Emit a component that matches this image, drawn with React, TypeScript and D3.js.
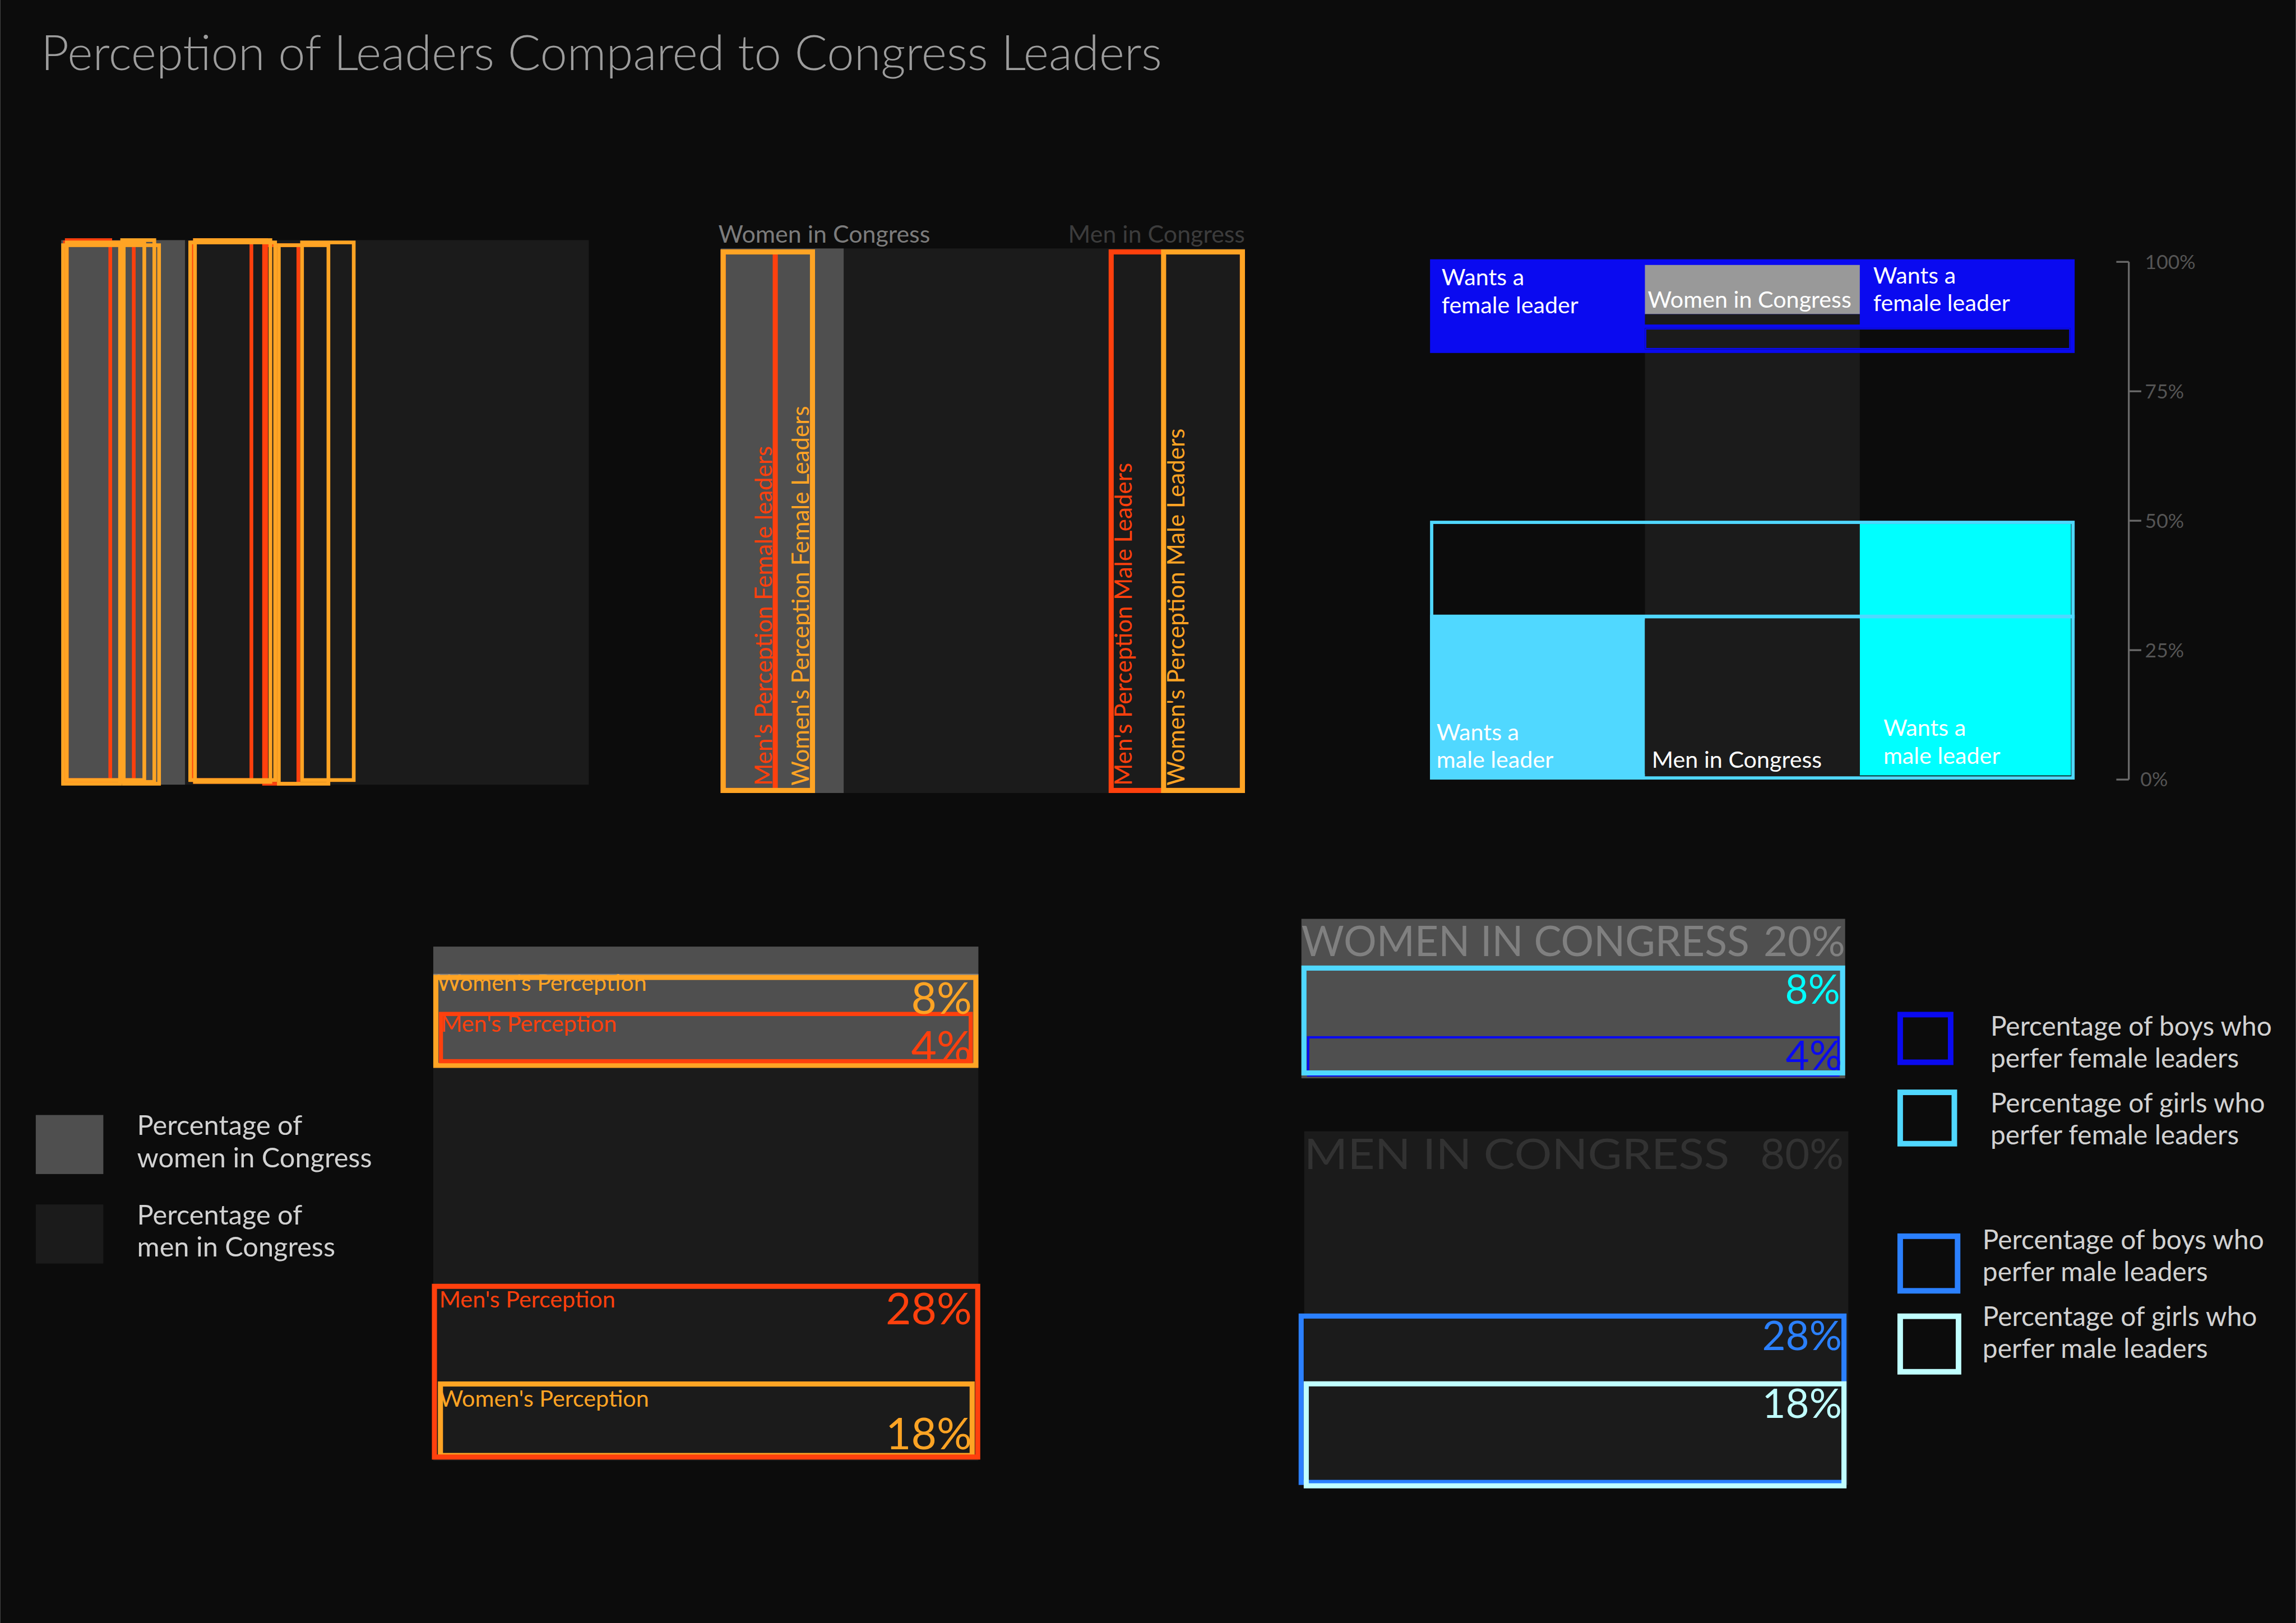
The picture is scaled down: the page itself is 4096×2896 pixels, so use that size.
import React from 'react';
import * as d3 from 'd3';

// reference canvas, drawn at 0.825 through the viewBox
const W = 4961;
const H = 3508;
const FONT = 'Lato, "Open Sans", sans-serif';

// --- data ---
const congressGroups = ['Women in Congress', 'Men in Congress'];
const congressShare = [23.5, 76.5]; // share of each panel the congress blocks take
const congressPctLabels = ['20%', '80%'];

const perceivers = ["Men's Perception", "Women's Perception"];
const femaleLeaderPct = ['4%', '8%'];
const maleLeaderPct = ['28%', '18%'];

// panel 1: overlapping outline boxes (% of panel width)
const p1Start = [0.35, 0.7, 0, 0.7, 11.2, 11.5, 24.4, 25, 38.1, 24.1, 25, 40.9, 45.3];
const p1End = [14.1, 9.65, 11.5, 16.1, 18.0, 18.9, 36.4, 39.2, 45.3, 40.9, 40, 51, 55.8];
const p1Who = ['m', 'm', 'w', 'w', 'w', 'w', 'm', 'm', 'm', 'w', 'w', 'w', 'w'];

// panel 2: widths (% of panel) for female leaders (from left) and male leaders (from right)
const p2FemaleWidth = [10.9, 18]; // men, women
const p2MaleWidth = [26, 16];
const p2Titles = ["Men's Perception Female leaders", "Women's Perception Female Leaders"];
const p2MaleTitles = ["Men's Perception Male Leaders", "Women's Perception Male Leaders"];

// panel 3: vertical % scale
const p3Ticks = [0, 25, 50, 75, 100];
const p3Columns = ['left', 'center', 'right'];
const p3BoysFemale = [82.4, 100.5];
const p3WomenBox = [89.9, 99.4];
const p3DarkStrip = [87.9, 89.9];
const p3InnerBox = [83.1, 87.2];
const p3GirlsOutline = [0, 50];
const p3GirlsMale = [0.8, 49.4];
const p3BoysMale = [0, 31.5];
const p3MenBox = [1.1, 30.8];

// panel 4: vertical extents (% of panel height)
const p4FemaleFrom = [12.7, 5.5]; // men, women
const p4FemaleTo = [22.7, 23.6];
const p4MaleFrom = [65.6, 84.6];
const p4MaleTo = [99.8, 99.5];

// panel 5: vertical extents (% of panel height)
const p5WomenBlock = [0, 28];
const p5MenBlock = [37.3, 99.4];
const p5GirlsFemale = [8.2, 27.5];
const p5BoysFemale = [20.6, 27.7];
const p5BoysMale = [69.3, 99.4];
const p5GirlsMale = [81.2, 100];

const legendLeft = [['Percentage of', 'women in Congress'], ['Percentage of', 'men in Congress']];
const legendRight = [
  ['Percentage of boys who', 'perfer female leaders'],
  ['Percentage of girls who', 'perfer female leaders'],
  ['Percentage of boys who', 'perfer male leaders'],
  ['Percentage of girls who', 'perfer male leaders'],
];

// --- colours ---
const BG = '#0c0c0c';
const WOMEN = '#4f4f4f';
const MEN = '#1b1b1b';
const ORANGE = '#ffa424';
const RED = '#ff400d';
const BLUE = '#0a0af0';
const LIGHTCYAN = '#50d8ff';
const CYAN = '#00ffff';
const BLUE2 = '#2b80ff';
const PALECYAN = '#c0ffff';
const TEXT = '#d2d2d2';

const whoColor = d3.scaleOrdinal<string, string>().domain(['m', 'w']).range([RED, ORANGE]);

type OutlineProps = { x0: number; x1: number; y0: number; y1: number; sw: number; color: string; fill?: string };
const Outline = ({ x0, x1, y0, y1, sw, color, fill = 'none' }: OutlineProps) => (
  <rect
    x={Math.min(x0, x1) + sw / 2}
    y={Math.min(y0, y1) + sw / 2}
    width={Math.abs(x1 - x0) - sw}
    height={Math.abs(y1 - y0) - sw}
    fill={fill}
    stroke={color}
    strokeWidth={sw}
  />
);

const Block = ({ x0, x1, y0, y1, fill }: { x0: number; x1: number; y0: number; y1: number; fill: string }) => (
  <rect x={Math.min(x0, x1)} y={Math.min(y0, y1)} width={Math.abs(x1 - x0)} height={Math.abs(y1 - y0)} fill={fill} />
);

function Panel1() {
  const x = d3.scaleLinear().domain([0, 100]).range([132, 1272]);
  const top = 519;
  const bottom = 1696;
  const dTop = [1, -4, 7];
  const dBot = [-6, -2, 2];
  return (
    <g>
      <Block x0={x(0)} x1={x(congressShare[0])} y0={top} y1={bottom} fill={WOMEN} />
      <Block x0={x(congressShare[0])} x1={x(100)} y0={top} y1={bottom} fill={MEN} />
      {p1Start.map((s, i) => (
        <Outline
          key={i}
          x0={x(s)}
          x1={x(p1End[i])}
          y0={top + dTop[i % 3]}
          y1={bottom + dBot[i % 3]}
          sw={8}
          color={whoColor(p1Who[i])}
        />
      ))}
    </g>
  );
}

function Panel2() {
  const x = d3.scaleLinear().domain([0, 100]).range([1557, 2690]);
  const top = 537;
  const bottom = 1714;
  const sw = 11;
  return (
    <g fontFamily={FONT}>
      <text x={1552} y={525} fontSize={52} fill="#7c7c7c">{congressGroups[0]}</text>
      <text x={2690} y={525} fontSize={52} fill="#3c3c3c" textAnchor="end">{congressGroups[1]}</text>
      <Block x0={x(0)} x1={x(congressShare[0])} y0={top} y1={bottom} fill={WOMEN} />
      <Block x0={x(congressShare[0])} x1={x(100)} y0={top} y1={bottom} fill={MEN} />
      {p2FemaleWidth.map((w, i) => (
        <g key={'f' + i}>
          <Outline x0={x(0)} x1={x(w)} y0={top + 2} y1={bottom} sw={sw} color={i === 0 ? RED : ORANGE} />
          <text
            transform={`translate(${x(w) - 13},${bottom - 16}) rotate(-90)`}
            fontSize={51}
            fill={i === 0 ? RED : ORANGE}
          >
            {p2Titles[i]}
          </text>
        </g>
      ))}
      {p2MaleWidth.map((w, i) => (
        <g key={'m' + i}>
          <Outline x0={x(100 - w)} x1={x(100)} y0={top + 2} y1={bottom} sw={sw} color={i === 0 ? RED : ORANGE} />
          <text
            transform={`translate(${x(100 - w) + 50},${bottom - 16}) rotate(-90)`}
            fontSize={51}
            fill={i === 0 ? RED : ORANGE}
          >
            {p2MaleTitles[i]}
          </text>
        </g>
      ))}
    </g>
  );
}

function Panel3() {
  const y = d3.scaleLinear().domain([0, 100]).range([1685, 566]);
  const x = d3.scaleBand<string>().domain(p3Columns).range([3090, 4483]).padding(0);
  const left = x('left')!;
  const mid = x('center')!;
  const right = x('right')!;
  const bw = x.bandwidth();
  const end = 4483;
  const axisX = 4600;
  return (
    <g fontFamily={FONT}>
      {/* congress column */}
      <Block x0={mid} x1={mid + bw} y0={y(0)} y1={y(100)} fill={MEN} />
      {/* boys want a female leader */}
      <Block x0={left} x1={end} y0={y(p3BoysFemale[0])} y1={y(p3BoysFemale[1])} fill={BLUE} />
      <Block x0={mid} x1={mid + bw} y0={y(p3WomenBox[0])} y1={y(p3WomenBox[1])} fill="#999999" />
      <Block x0={mid} x1={mid + bw} y0={y(p3DarkStrip[0])} y1={y(p3DarkStrip[1])} fill={MEN} />
      <Block x0={mid} x1={end - 9} y0={y(p3InnerBox[0])} y1={y(p3InnerBox[1])} fill={BG} />
      <Block x0={mid} x1={mid + bw} y0={y(p3InnerBox[0])} y1={y(p3InnerBox[1])} fill={MEN} />
      <Outline x0={mid} x1={end - 9} y0={y(p3InnerBox[0])} y1={y(p3InnerBox[1])} sw={3} color={BLUE} />
      <text fontSize={50} fill="#ffffff">
        <tspan x={left + 25} y={y(p3BoysFemale[1]) + 56}>Wants a</tspan>
        <tspan x={left + 25} y={y(p3BoysFemale[1]) + 117}>female leader</tspan>
      </text>
      <text fontSize={50} fill="#ffffff">
        <tspan x={right + 29} y={y(p3BoysFemale[1]) + 53}>Wants a</tspan>
        <tspan x={right + 29} y={y(p3BoysFemale[1]) + 112}>female leader</tspan>
      </text>
      <text x={mid + 6} y={y(p3WomenBox[0]) - 14} fontSize={50} fill="#ffffff">{congressGroups[0]}</text>

      {/* girls want a male leader */}
      <Block x0={right} x1={end - 8} y0={y(p3GirlsMale[0])} y1={y(p3GirlsMale[1])} fill={CYAN} />
      <Outline x0={left} x1={end} y0={y(p3GirlsOutline[0])} y1={y(p3GirlsOutline[1])} sw={7} color={LIGHTCYAN} />
      {/* boys want a male leader */}
      <Block x0={left} x1={mid} y0={y(p3BoysMale[0])} y1={y(p3BoysMale[1])} fill={LIGHTCYAN} />
      <Block x0={left} x1={end} y0={y(p3BoysMale[1]) - 4} y1={y(p3BoysMale[1]) + 4} fill={LIGHTCYAN} />
      <Block x0={mid} x1={mid + bw} y0={y(p3MenBox[0])} y1={y(p3MenBox[1])} fill={MEN} />
      <text fontSize={50} fill="#ffffff">
        <tspan x={left + 14} y={y(0) - 85}>Wants a</tspan>
        <tspan x={left + 14} y={y(0) - 25}>male leader</tspan>
      </text>
      <text fontSize={50} fill="#ffffff">
        <tspan x={right + 51} y={y(0) - 95}>Wants a</tspan>
        <tspan x={right + 51} y={y(0) - 34}>male leader</tspan>
      </text>
      <text x={mid + 15} y={y(0) - 26} fontSize={50} fill="#ffffff">{congressGroups[1]}</text>

      {/* axis */}
      <line x1={axisX} x2={axisX} y1={y(100)} y2={y(0)} stroke="#6a6a6a" strokeWidth={4} />
      {p3Ticks.map((t) => {
        const edge = t === 0 || t === 100;
        return (
          <g key={t}>
            <line
              x1={edge ? axisX - 27 : axisX}
              x2={edge ? axisX : axisX + 27}
              y1={y(t)}
              y2={y(t)}
              stroke="#6a6a6a"
              strokeWidth={4}
            />
            <text
              x={edge && t === 0 ? axisX + 25 : axisX + 35}
              y={y(t)}
              dy="0.35em"
              fontSize={43}
              fill="#555555"
            >
              {t}%
            </text>
          </g>
        );
      })}
    </g>
  );
}

function Panel4() {
  const y = d3.scaleLinear().domain([0, 100]).range([2046, 3157]);
  const x0 = 936;
  const x1 = 2114;
  const sw = 11;
  const pctX = 2100;
  return (
    <g fontFamily={FONT}>
      <Block x0={x0} x1={x1} y0={y(0)} y1={y(congressShare[0])} fill={WOMEN} />
      <Block x0={x0} x1={x1} y0={y(congressShare[0])} y1={y(100)} fill={MEN} />
      <line x1={x0} x2={x1} y1={y(p4FemaleFrom[1]) - 1} y2={y(p4FemaleFrom[1]) - 1} stroke="#8a8a8a" strokeWidth={2} />
      {/* female leader perception */}
      <text x={x0 + 8} y={y(p4FemaleFrom[1]) + 35} fontSize={50} fill={ORANGE}>{perceivers[1]}</text>
      <Outline x0={x0} x1={x1} y0={y(p4FemaleFrom[1])} y1={y(p4FemaleTo[1])} sw={sw} color={ORANGE} />
      <Outline x0={x0 + 12} x1={x1 - 12} y0={y(p4FemaleFrom[0])} y1={y(p4FemaleTo[0])} sw={9} color={RED} />
      <text x={pctX} y={y(p4FemaleFrom[1]) + 84} fontSize={95} fill={ORANGE} textAnchor="end">{femaleLeaderPct[1]}</text>
      <text x={x0 + 16} y={y(p4FemaleFrom[0]) + 43} fontSize={50} fill={RED}>{perceivers[0]}</text>
      <text x={pctX} y={y(p4FemaleTo[0]) - 1} fontSize={95} fill={RED} textAnchor="end">{femaleLeaderPct[0]}</text>
      {/* male leader perception */}
      <Outline x0={x0 + 10} x1={x1 - 8} y0={y(p4MaleFrom[1])} y1={y(p4MaleTo[1])} sw={sw} color={ORANGE} />
      <Outline x0={x0 - 3} x1={x1 + 4} y0={y(p4MaleFrom[0])} y1={y(p4MaleTo[0])} sw={sw} color={RED} />
      <text x={x0 + 13} y={y(p4MaleFrom[0]) + 51} fontSize={50} fill={RED}>{perceivers[0]}</text>
      <text x={pctX} y={y(p4MaleFrom[0]) + 87} fontSize={95} fill={RED} textAnchor="end">{maleLeaderPct[0]}</text>
      <text x={x0 + 13} y={y(p4MaleFrom[1]) + 54} fontSize={50} fill={ORANGE}>{perceivers[1]}</text>
      <text x={pctX} y={y(p4MaleTo[1]) - 19} fontSize={95} fill={ORANGE} textAnchor="end">{maleLeaderPct[1]}</text>
    </g>
  );
}

function Panel5() {
  const y = d3.scaleLinear().domain([0, 100]).range([1986, 3217]);
  const x0 = 2812;
  const x1 = 3987;
  const sw = 11;
  return (
    <g fontFamily={FONT}>
      <Block x0={x0} x1={x1} y0={y(p5WomenBlock[0])} y1={y(p5WomenBlock[1])} fill={WOMEN} />
      <text x={x0} y={y(p5WomenBlock[0]) + 80} fontSize={92} fill="#808080" textLength={968} lengthAdjust="spacingAndGlyphs">
        {congressGroups[0].toUpperCase()}
      </text>
      <text x={x1} y={y(p5WomenBlock[0]) + 80} fontSize={90} fill="#808080" textAnchor="end">{congressPctLabels[0]}</text>
      <Block x0={x0 + 6} x1={x1 + 7} y0={y(p5MenBlock[0])} y1={y(p5MenBlock[1])} fill={MEN} />
      <text x={x0 + 6} y={y(p5MenBlock[0]) + 82} fontSize={92} fill="#323232" textLength={919} lengthAdjust="spacingAndGlyphs">
        {congressGroups[1].toUpperCase()}
      </text>
      <text x={x1 - 3} y={y(p5MenBlock[0]) + 82} fontSize={92} fill="#323232" textAnchor="end">{congressPctLabels[1]}</text>

      {/* female leaders */}
      <Outline x0={x0 + 12} x1={x1 - 12} y0={y(p5BoysFemale[0])} y1={y(p5BoysFemale[1])} sw={5} color={BLUE} />
      <Outline x0={x0} x1={x1} y0={y(p5GirlsFemale[0])} y1={y(p5GirlsFemale[1])} sw={sw} color={LIGHTCYAN} />
      <text x={x1 - 11} y={y(p5GirlsFemale[0]) + 82} fontSize={86} fill={CYAN} textAnchor="end">{femaleLeaderPct[1]}</text>
      <text x={x1 - 7} y={y(p5BoysFemale[1]) - 14} fontSize={88} fill={BLUE} textAnchor="end">{femaleLeaderPct[0]}</text>

      {/* male leaders */}
      <Outline x0={x0 - 6} x1={x1 + 3} y0={y(p5BoysMale[0])} y1={y(p5BoysMale[1])} sw={sw} color={BLUE2} />
      <Outline x0={x0 + 5} x1={x1 + 3} y0={y(p5GirlsMale[0])} y1={y(p5GirlsMale[1])} sw={sw} color={PALECYAN} />
      <text x={x1 - 7} y={y(p5BoysMale[0]) + 79} fontSize={88} fill={BLUE2} textAnchor="end">{maleLeaderPct[0]}</text>
      <text x={x1 - 7} y={y(p5GirlsMale[0]) + 79} fontSize={88} fill={PALECYAN} textAnchor="end">{maleLeaderPct[1]}</text>
    </g>
  );
}

function Legends() {
  const leftFills = [WOMEN, MEN];
  const rightColors = [BLUE, LIGHTCYAN, BLUE2, PALECYAN];
  const rightTop = [2187, 2355, 2666, 2839];
  const rightBoxH = [115, 123, 130, 132];
  const rightTextX = [4301, 4301, 4284, 4284];
  const rightBase = [2239, 2405, 2700, 2866];
  const leftY = d3.scaleBand<number>().domain([0, 1]).range([2410, 2731]).paddingInner(0.34);
  return (
    <g fontFamily={FONT} fill={TEXT}>
      {legendLeft.map((lines, i) => (
        <g key={'l' + i}>
          <rect x={77} y={leftY(i)} width={146} height={leftY.bandwidth()} fill={leftFills[i]} />
          <text fontSize={59} fill={TEXT}>
            <tspan x={296} y={leftY(i)! + 43}>{lines[0]}</tspan>
            <tspan x={296} y={leftY(i)! + 113}>{lines[1]}</tspan>
          </text>
        </g>
      ))}
      {legendRight.map((lines, i) => (
        <g key={'r' + i}>
          <Outline
            x0={4100}
            x1={4100 + rightBoxH[i] + 6}
            y0={rightTop[i]}
            y1={rightTop[i] + rightBoxH[i]}
            sw={12}
            color={rightColors[i]}
          />
          <text fontSize={58} fill={TEXT}>
            <tspan x={rightTextX[i]} y={rightBase[i]}>{lines[0]}</tspan>
            <tspan x={rightTextX[i]} y={rightBase[i] + 69}>{lines[1]}</tspan>
          </text>
        </g>
      ))}
    </g>
  );
}

export default function App() {
  return (
    <svg
      width={4096}
      height={2896}
      viewBox={`0 0 ${W} ${H}`}
      style={{ position: 'absolute', left: 0, top: 0, display: 'block' }}
    >
      <rect x={0} y={0} width={W} height={H} fill={BG} />
      <text x={88} y={152} fontFamily={FONT} fontWeight={300} fontSize={105} fill="#9d9d9d">
        Perception of Leaders Compared to Congress Leaders
      </text>
      <Panel1 />
      <Panel2 />
      <Panel3 />
      <Panel4 />
      <Panel5 />
      <Legends />
    </svg>
  );
}
